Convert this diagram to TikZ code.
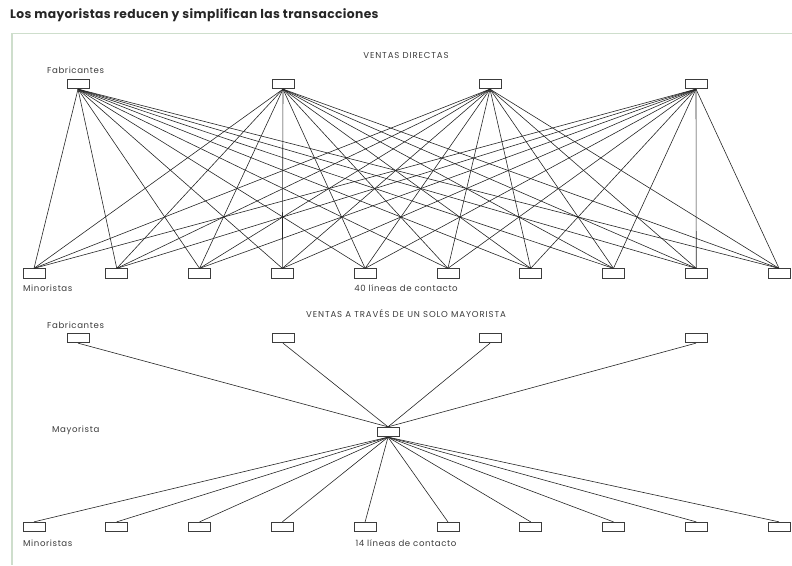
\documentclass[tikz,border=0pt]{standalone}
\usepackage{fontspec}
\setmainfont{Poppins}
\newfontfamily\lblfont{Poppins}[LetterSpace=7]
\newfontfamily\capfont{Poppins}[LetterSpace=10]
\newfontfamily\ttlfont{Poppins}[LetterSpace=3]
\definecolor{framegreen}{RGB}{206,222,204}
\definecolor{inkgray}{RGB}{60,60,60}
\begin{document}
\begin{tikzpicture}[x=1pt,y=-1pt,
  box/.style={draw=inkgray, line width=0.8pt, minimum width=22pt, minimum height=9.5pt, inner sep=0pt, fill=white},
  lbl/.style={font=\lblfont\fontsize{8.6}{10}\selectfont, text=inkgray, inner sep=0pt},
  head/.style={font=\capfont\fontsize{8.6}{10}\selectfont, text=inkgray, inner sep=0pt},
  link/.style={line width=0.6pt, draw=black!85},
  title/.style={font=\ttlfont\fontsize{12.3}{14}\selectfont\bfseries, text=black!85, inner sep=0pt, anchor=west}]
\useasboundingbox (0,0) rectangle (792,565);

% frame around the two diagrams
\draw[framegreen, line width=1pt] (12,33) -- (792,33);
\draw[framegreen, line width=2.5pt] (12,33) -- (12,565);

\node[title] (ttl) at (10,15) {Los mayoristas reducen y simplifican las transacciones};

% ---------- direct sales ----------
\node[head] (hdA) at (406,55) {VENTAS DIRECTAS};
\node[lbl, anchor=west] (fabA) at (47,70) {Fabricantes};
\foreach \i/\x in {1/78,2/283,3/490,4/696}
  \node[box] (fa\i) at (\x,84) {};
\foreach \j in {1,...,10}
  \node[box] (ma\j) at ({34+82.78*(\j-1)},273.5) {};
\foreach \i in {1,...,4}
  \foreach \j in {1,...,10}
    \draw[link] (fa\i.south) -- (ma\j.north);
\node[lbl, anchor=west] (minA) at (23,288) {Minoristas};
\node[lbl] (cntA) at (406,288) {40 líneas de contacto};

% ---------- sales through one wholesaler ----------
\node[head] (hdB) at (406,314) {VENTAS A TRAVÉS DE UN SOLO MAYORISTA};
\node[lbl, anchor=west] (fabB) at (47,325) {Fabricantes};
\foreach \i/\x in {1/78,2/283,3/490,4/696}
  \node[box] (fb\i) at (\x,338) {};
\node[box] (may) at (388,432) {};
\node[lbl, anchor=west] (mayl) at (52,430) {Mayorista};
\foreach \j in {1,...,10}
  \node[box] (mb\j) at ({34+82.78*(\j-1)},527) {};
\foreach \i in {1,...,4}
  \draw[link] (fb\i.south) -- (may.north);
\foreach \j in {1,...,10}
  \draw[link] (may.south) -- (mb\j.north);
\node[lbl, anchor=west] (minB) at (23,543) {Minoristas};
\node[lbl] (cntB) at (406,543) {14 líneas de contacto};
\end{tikzpicture}
\end{document}
